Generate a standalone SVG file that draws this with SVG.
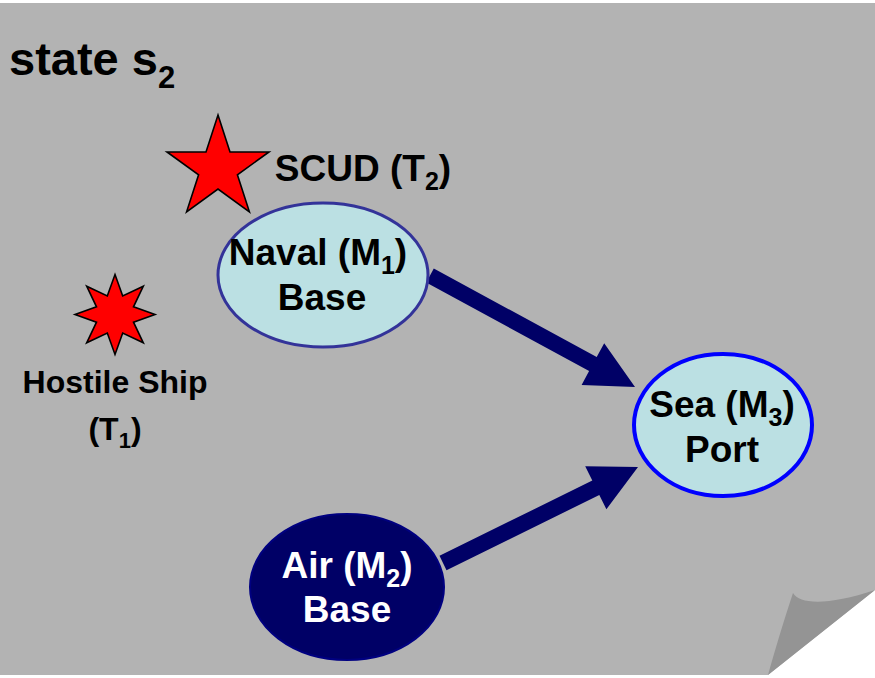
<svg xmlns="http://www.w3.org/2000/svg" width="875" height="678" viewBox="0 0 875 678">
  <style>
    text { font-family: "Liberation Sans", Arial, sans-serif; font-weight: bold; text-anchor: middle; }
    .light { fill: #ffffff; }
    .star { fill: #ff0000; stroke: #000000; stroke-width: 1.6; stroke-linejoin: miter; }
    .arrow { fill: #000066; }
  </style>

  <!-- page with curled bottom-right corner -->
  <rect x="0" y="0" width="875" height="678" fill="#ffffff"/>
  <path d="M0,3 H875 V590 L768,675 H0 Z" fill="#b3b3b3"/>
  <path d="M793,593 C800,605 830,605 875,590 L768,675 C775,650 784,620 793,593 Z" fill="#949494"/>

  <!-- title -->
  <text x="9" y="75" font-size="47" style="text-anchor:start">state s<tspan font-size="31" dy="13">2</tspan></text>

  <!-- connectors -->
  <g id="connectors">
    <polygon class="arrow" points="433.8,268.5 596.7,357.1 604.2,343.3 635,387 581.6,384.9 589.1,371.1 426.2,282.5"/>
    <polygon class="arrow" points="439.5,555.8 592.3,480.6 585.2,466.3 638,467 606.4,509.3 599.3,495.0 446.5,570.2"/>
  </g>

  <!-- threat: SCUD -->
  <g id="scud">
    <polygon class="star" points="218,115 230,152 269,152 237.4,174.8 249.4,211.8 218,189 186.6,211.8 198.6,174.8 167,152 206,152"/>
    <text x="363" y="181" font-size="37">SCUD (T<tspan font-size="25" dy="9">2</tspan><tspan dy="-9">)</tspan></text>
  </g>

  <!-- threat: hostile ship -->
  <g id="hostile-ship">
    <polygon class="star" points="115,274.5 122.7,296 143.3,286.2 133.5,306.8 155,314.5 133.5,322.2 143.3,342.8 122.7,333 115,354.5 107.3,333 86.7,342.8 96.5,322.2 75,314.5 96.5,306.8 86.7,286.2 107.3,296"/>
    <text x="115" y="393" font-size="32">Hostile Ship</text>
    <text x="115" y="440" font-size="32">(T<tspan font-size="22" dy="8">1</tspan><tspan dy="-8">)</tspan></text>
  </g>

  <!-- mission node: naval base -->
  <g id="naval-base">
    <ellipse cx="323" cy="275" rx="105" ry="72" fill="#bbe0e3" stroke="#333399" stroke-width="3"/>
    <text x="318" y="265" font-size="37">Naval (M<tspan font-size="25" dy="9">1</tspan><tspan dy="-9">)</tspan></text>
    <text x="322" y="310" font-size="37">Base</text>
  </g>

  <!-- mission node: sea port -->
  <g id="sea-port">
    <ellipse cx="723" cy="425" rx="89" ry="71" fill="#bbe0e3" stroke="#0000ff" stroke-width="4"/>
    <text x="722" y="417" font-size="37">Sea (M<tspan font-size="25" dy="9">3</tspan><tspan dy="-9">)</tspan></text>
    <text x="722" y="462" font-size="37">Port</text>
  </g>

  <!-- mission node: air base -->
  <g id="air-base">
    <ellipse cx="347" cy="587" rx="97" ry="73" fill="#000066" stroke="#000080" stroke-width="2"/>
    <text class="light" x="347" y="578" font-size="37">Air (M<tspan font-size="25" dy="9">2</tspan><tspan dy="-9">)</tspan></text>
    <text class="light" x="347" y="622" font-size="37">Base</text>
  </g>
</svg>
